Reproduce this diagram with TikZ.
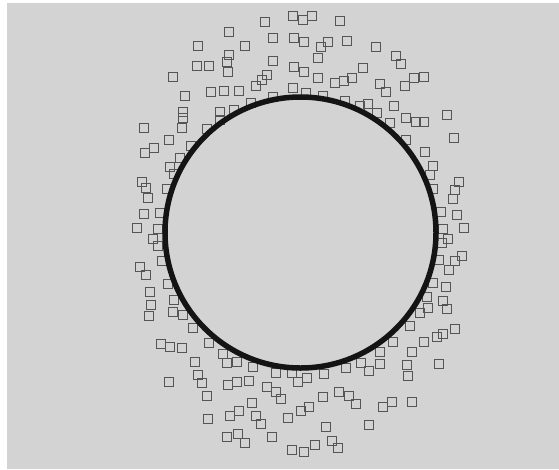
\documentclass[tikz,border=0pt]{standalone}
\definecolor{bggray}{HTML}{D3D3D3}
\definecolor{sqgray}{HTML}{555555}
\definecolor{ringc}{HTML}{141414}
\begin{document}
\begin{tikzpicture}[x=1pt,y=-1pt,
  sq/.style={draw=sqgray, line width=1.4pt, rectangle, minimum size=9.4pt, inner sep=0pt},
  ring/.style={draw=ringc, line width=5.5pt}]
\useasboundingbox (0,0) rectangle (559,469);
\fill[white] (0,0) rectangle (559,469);
\fill[bggray] (7,3) rectangle (559,469);
\foreach \x/\y [count=\i] in {
265/22,293/16,303/20,312/16,340/21,229/32,273/38,294/38,304/42,328/42,
321/47,347/41,376/47,198/46,245/46,229/55,227/62,273/61,197/66,209/66,
228/72,294/67,304/72,173/77,267/75,262/80,256/86,293/88,211/92,224/91,
239/91,185/96,273/97,251/103,183/112,220/112,234/110,183/118,220/120,182/128,
144/128,207/129,169/140,154/148,145/153,191/146,318/58,396/56,401/64,363/68,
318/78,335/83,344/81,352/78,380/84,386/92,405/86,414/78,424/77,306/93,
323/96,345/101,360/106,368/104,377/113,394/106,406/118,416/122,424/122,447/115,
390/123,454/138,406/140,425/152,
180/158,170/167,174/174,142/182,146/188,148/198,167/189,144/214,160/213,137/228,
158/229,153/239,158/246,162/261,140/267,146/275,150/292,168/284,151/305,149/316,
174/300,173/312,183/315,193/328,161/344,170/347,182/348,
433/166,430/175,433/189,459/182,455/190,453/199,441/212,457/215,464/228,443/229,
448/239,442/243,462/256,455/261,439/260,449/270,433/283,446/287,427/297,443/301,
447/309,428/308,420/313,410/326,455/329,443/334,437/337,424/342,412/352,
209/343,195/362,223/354,227/363,169/382,198/375,202/383,237/362,253/367,207/396,
228/385,237/382,249/381,267/387,276/392,281/399,276/373,292/373,298/382,252/403,
239/411,230/416,256/416,261/424,208/419,288/418,301/411,227/437,238/434,245/443,
272/437,292/450,304/452,
307/378,324/374,346/368,361/363,369/371,380/352,380/364,393/342,407/365,408/376,
439/364,323/397,339/392,349/396,356/404,383/407,392/402,412/402,309/407,326/427,
369/425,315/445,332/441,338/448}
  \node[sq] (s\i) at (\x,\y) {};
\node[ring, circle, minimum size=271pt, inner sep=0pt] (ring) at (300.5,232.5) {};
\end{tikzpicture}
\end{document}
